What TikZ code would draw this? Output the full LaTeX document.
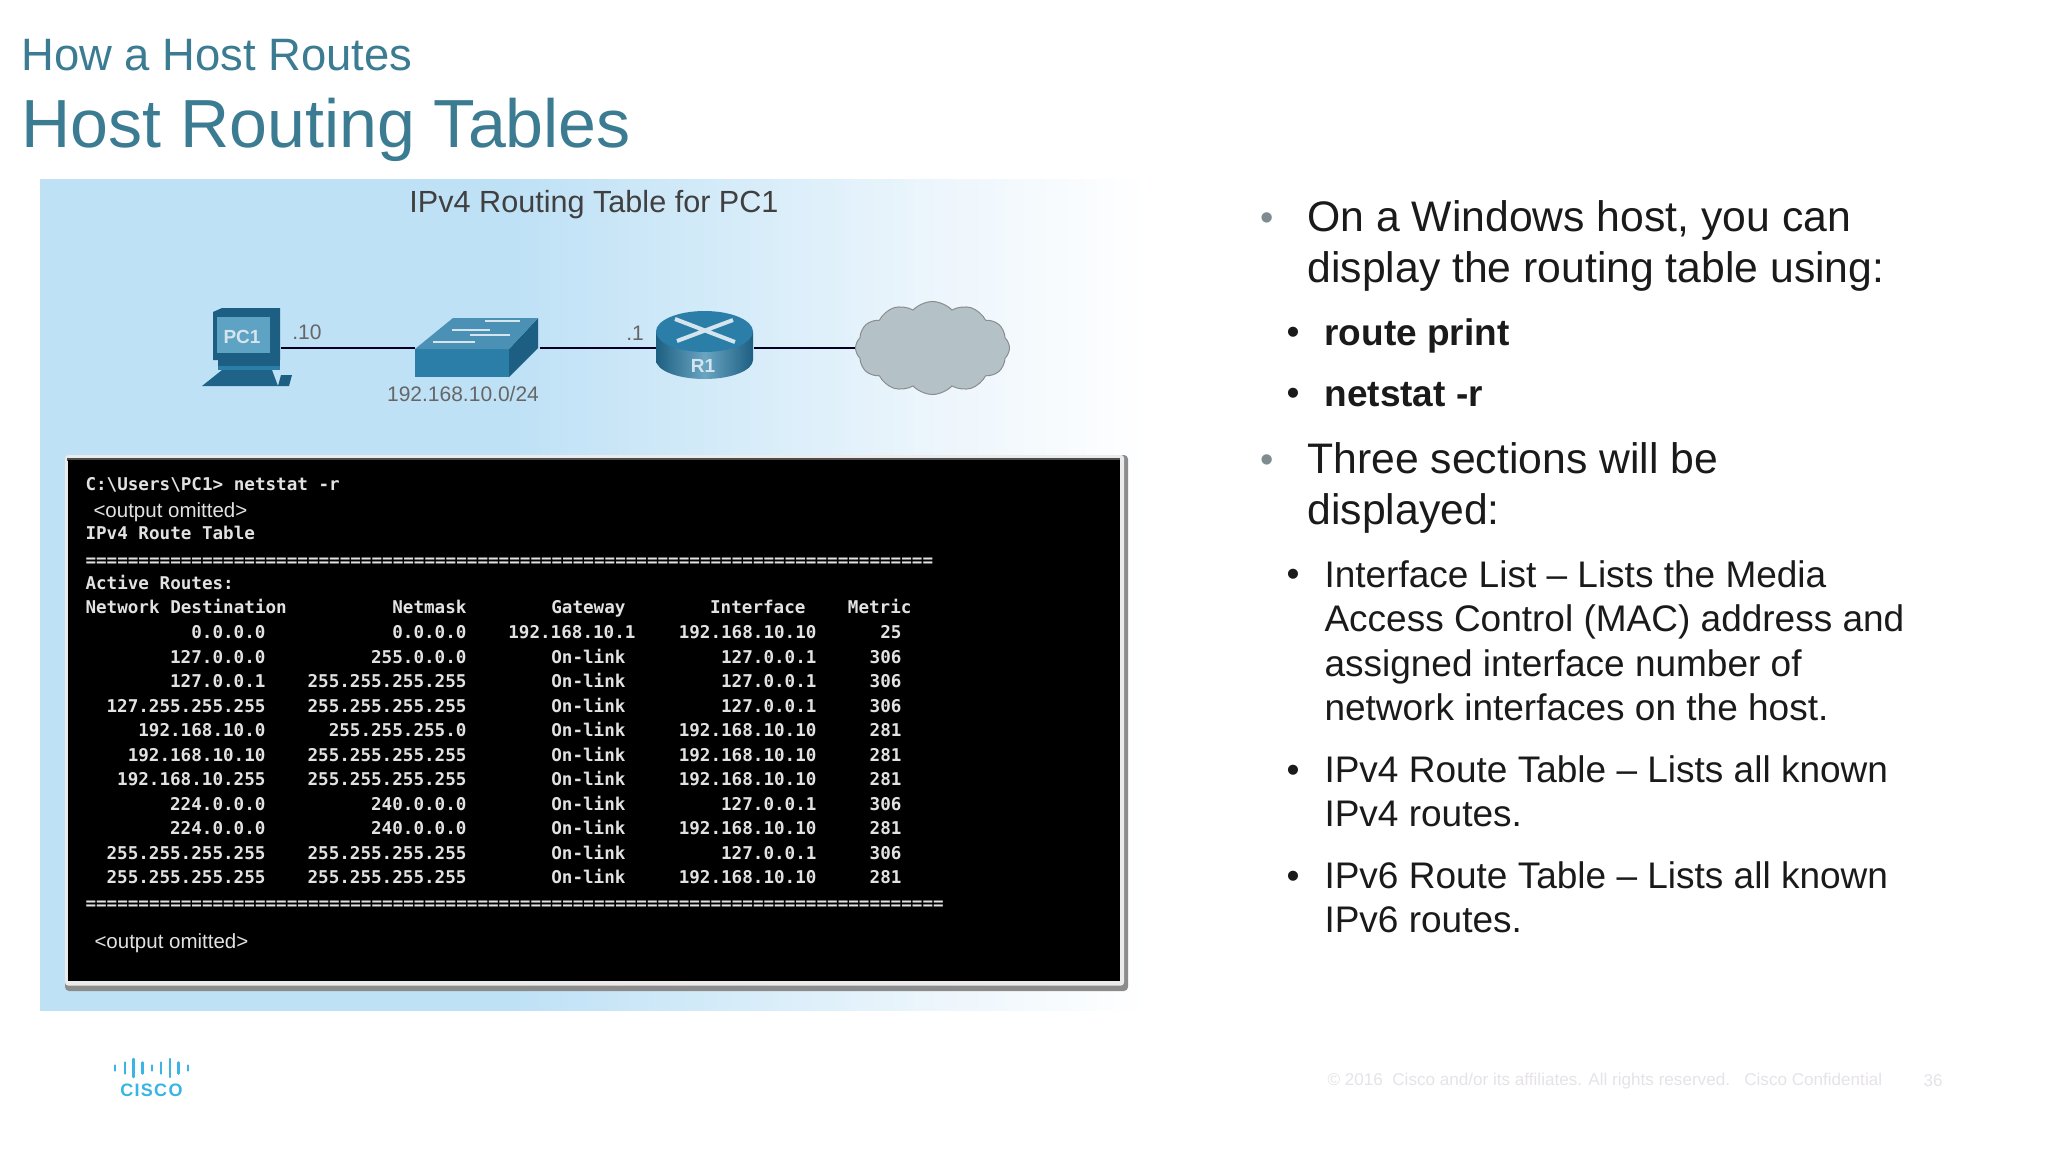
\documentclass[tikz,border=0pt]{standalone}
\usepackage{fontspec}
\setmainfont{Liberation Sans}
\setmonofont{DejaVu Sans Mono}
\usetikzlibrary{positioning,shapes.symbols}

\definecolor{titleblue}{HTML}{3B7C93}
\definecolor{bodyblack}{HTML}{1A1A1A}
\definecolor{dotgray}{HTML}{7F8C8F}
\definecolor{iconblue}{HTML}{2A7EA8}
\definecolor{icondark}{HTML}{1D5F82}
\definecolor{iconlight}{HTML}{5FA3C4}
\definecolor{cloudgray}{HTML}{B4C2C8}
\definecolor{ciscoblue}{HTML}{38B5E3}
\definecolor{footgray}{HTML}{E6E3E8}
\definecolor{termtext}{HTML}{E2E2E2}
\definecolor{panelblue}{HTML}{BFE1F6}
\definecolor{panelmid}{HTML}{D6ECF9}
\definecolor{panelpale}{HTML}{EDF6FC}
\pgfdeclarehorizontalshading{panelfade}{100bp}{
  color(0bp)=(panelblue); color(25bp)=(panelblue); color(46bp)=(panelblue); color(56bp)=(panelmid);
  color(65bp)=(panelpale); color(74bp)=(white); color(100bp)=(white)}

\begin{document}
\begin{tikzpicture}[x=1pt,y=-1pt,node distance=200pt,on grid,line width=1pt]
       \tikzstyle{headtext}=[anchor=west,text=titleblue,inner sep=0pt]
       \tikzstyle{biglist}=[anchor=base west,inner sep=0pt,font=\fontsize{42.7}{42.7}\selectfont,text=bodyblack]
       \tikzstyle{sublist}=[anchor=base west,inner sep=0pt,font=\fontsize{37}{37}\selectfont,text=bodyblack]
       \tikzstyle{netlabel}=[inner sep=0pt,text=black!60,font=\fontsize{21}{21}\selectfont]
       \tikzstyle{icon}=[inner sep=0pt,draw=none,minimum height=60pt]
       \tikzstyle{termline}=[anchor=base west,inner sep=0pt,text=termtext,font=\fontsize{17.6}{17.6}\ttfamily\bfseries\selectfont]
       \tikzstyle{termcol}=[termline,anchor=base east]
       \tikzstyle{termomit}=[anchor=base west,inner sep=0pt,text=termtext,font=\fontsize{20.5}{20.5}\selectfont]
       \tikzstyle{wire}=[line width=2.5pt,black!85!blue]
       \tikzstyle{iconlabel}=[inner sep=0pt,text=white!80!iconblue,font=\fontsize{19}{19}\bfseries\selectfont]

       \useasboundingbox (0,0) rectangle (2048,1152);
       \fill[white] (0,0) rectangle (2048,1152);

       % titles
       \node[headtext,font=\fontsize{45.4}{45.4}\selectfont] (howhost) at (21,55) {How a Host Routes};
       \node[headtext,font=\fontsize{68.1}{68.1}\selectfont] (hosttables) at (21,130) {Host Routing Tables};

       % panel
       \shade[shading=panelfade] (40,179) rectangle (1170,1010);
       \node[inner sep=0pt,text=black!75,font=\fontsize{30.6}{30.6}\selectfont] (paneltitle) at (594,205) {IPv4 Routing Table for PC1};

       % network row
       \node[icon,minimum width=67pt] (pc1) at (246.5,348) {};
       \node[icon,minimum width=124pt,right=230.5pt of pc1] (sw) {};
       \node[icon,minimum width=97pt,right=227.5pt of sw] (r1) {};
       \node[cloud,cloud puffs=12,cloud puff arc=95,aspect=1.6,draw=black!45,fill=cloudgray,
             minimum width=154pt,minimum height=93pt,inner sep=0pt,right=228pt of r1] (net) {};

       \draw[wire] (pc1.east) -- (sw.west);
       \draw[wire] (sw.east) -- (r1.west);
       \draw[wire] (r1.east) -- (net.west);

       % pc
       \fill[icondark] (213,312) -- (222,308) -- (280,308) -- (280,360) -- (213,360) -- cycle;
       \fill[iconlight] (217,317) rectangle (270,353);
       \node[iconlabel] (pc1name) at (242,337) {PC1};
       \fill[icondark] (218,360) rectangle (280,366);
       \fill[iconblue] (218,366) rectangle (280,370);
       \fill[icondark!85!iconblue] (202,386) -- (222,370) -- (272,370) -- (278,386) -- cycle;
       \fill[icondark] (281,375) -- (292,375) -- (289,386) -- (278,386) -- cycle;

       % switch
       \fill[iconblue] (415,349) rectangle (509,377);
       \fill[icondark] (509,349) -- (538,318) -- (538,348) -- (509,377) -- cycle;
       \fill[iconblue!85!white] (415,349) -- (453,318) -- (538,318) -- (509,349) -- cycle;
       \draw[white!80!iconblue,line width=2.5pt] (433,342) -- (475,342) (452,330) -- (490,330)
             (470,335) -- (510,335) (485,321) -- (520,321);

       % router
       \shade[left color=icondark,right color=icondark,middle color=iconblue!70!white]
             (656,332) -- (656,360) arc[start angle=180,end angle=360,x radius=48.5pt,y radius=19pt]
             -- (753,332) -- cycle;
       \fill[iconblue] (704.5,331.5) ellipse[x radius=48.5pt,y radius=20.5pt];
       \draw[white!80!iconblue,line width=4pt] (675,319) -- (735,342) (733,320) -- (677,341);
       \node[iconlabel] (r1name) at (703,366) {R1};

       % addresses
       \node[netlabel] (pcaddr) at (307,332) {.10};
       \node[netlabel] (swnet) at (463,394) {192.168.10.0/24};
       \node[netlabel] (raddr) at (635,333) {.1};

       % terminal
       \fill[black!45,rounded corners=4pt] (65,455) rectangle (1128,991);
       \fill[white!92!black,rounded corners=3pt] (65,455) rectangle (1124,985.5);
       \fill[black!70] (67,458) rectangle (1120,461);
       \fill[black] (68,460) rectangle (1120,981);

       \node[termline] (cmdline) at (85,490) {C:\textbackslash Users\textbackslash PC1> netstat -r};
       \node[termomit] (omit1) at (93,517) {<output omitted>};
       \node[termline] (tablename) at (85,539) {IPv4 Route Table};
       \node[termline] (rule1) at (85,566) {================================================================================};
       \node[termline] (active) at (85,589) {Active Routes:};
       \node[termline] (colnet) at (85,613) {Network Destination};
       \node[termcol] (colmask) at (467,613) {Netmask};
       \node[termcol] (colgate) at (626,613) {Gateway};
       \node[termcol] (colif) at (806,613) {Interface};
       \node[termcol] (colmet) at (912,613) {Metric};

       \foreach \n/\y/\dest/\mask/\gate/\gx/\ifc/\met in {
          a/638/0.0.0.0/0.0.0.0/192.168.10.1/636/192.168.10.10/25,
          b/663/127.0.0.0/255.0.0.0/On-link/626/127.0.0.1/306,
          c/687/127.0.0.1/255.255.255.255/On-link/626/127.0.0.1/306,
          d/712/127.255.255.255/255.255.255.255/On-link/626/127.0.0.1/306,
          e/736/192.168.10.0/255.255.255.0/On-link/626/192.168.10.10/281,
          f/761/192.168.10.10/255.255.255.255/On-link/626/192.168.10.10/281,
          g/785/192.168.10.255/255.255.255.255/On-link/626/192.168.10.10/281,
          h/810/224.0.0.0/240.0.0.0/On-link/626/127.0.0.1/306,
          i/834/224.0.0.0/240.0.0.0/On-link/626/192.168.10.10/281,
          j/859/255.255.255.255/255.255.255.255/On-link/626/127.0.0.1/306,
          k/883/255.255.255.255/255.255.255.255/On-link/626/192.168.10.10/281}{
         \node[termcol] (dest\n) at (266,\y) {\dest};
         \node[termcol] (mask\n) at (467,\y) {\mask};
         \node[termcol] (gate\n) at (\gx,\y) {\gate};
         \node[termcol] (ifc\n) at (817,\y) {\ifc};
         \node[termcol] (met\n) at (902,\y) {\met};
       }
       \node[termline] (rule2) at (85,909) {=================================================================================};
       \node[termomit] (omit2) at (94,948) {<output omitted>};

       % bullets
       \foreach \n/\y in {a/230,b/472}
         \node[biglist,text=dotgray,font=\fontsize{38}{38}\selectfont] (bigdot\n) at (1260,\y) {•};
       \node[biglist] (winline) at (1307,231) {On a Windows host, you can};
       \node[biglist] (winline2) at (1307,282) {display the routing table using:};
       \node[biglist] (threeline) at (1307,473) {Three sections will be};
       \node[biglist] (threeline2) at (1307,524) {displayed:};

       \foreach \n/\y in {a/344,b/405,c/586,d/782,e/888}
         \node[sublist] (subdot\n) at (1286,\y) {•};
       \node[sublist,font=\fontsize{37}{37}\bfseries\selectfont] (routecmd) at (1324,345) {route print};
       \node[sublist,font=\fontsize{37}{37}\bfseries\selectfont] (netcmd) at (1324,406) {netstat -r};
       \node[sublist] (ifa) at (1324,587) {Interface List – Lists the Media};
       \node[sublist] (ifb) at (1324,631) {Access Control (MAC) address and};
       \node[sublist] (ifc) at (1324,676) {assigned interface number of};
       \node[sublist] (ifd) at (1324,720) {network interfaces on the host.};
       \node[sublist] (vfa) at (1324,782) {IPv4 Route Table – Lists all known};
       \node[sublist] (vfb) at (1324,826) {IPv4 routes.};
       \node[sublist] (sxa) at (1324,888) {IPv6 Route Table – Lists all known};
       \node[sublist] (sxb) at (1324,932) {IPv6 routes.};

       % logo
       \foreach \x/\h in {115/2.5,125/5.5,133.5/9,142.5/5.5,152/2.5,161/5.5,170/9,178.5/5.5,188/2.5}
         \draw[ciscoblue,line width=2.5pt,line cap=round] (\x,1068-\h) -- (\x,1068+\h);
       \node[inner sep=0pt,text=ciscoblue,font=\fontsize{18}{18}\bfseries\selectfont\addfontfeature{LetterSpace=7}] (ciscoword) at (151.5,1090) {CISCO};

       % footer
       \node[anchor=west,inner sep=0pt,text=footgray,font=\fontsize{17.1}{17.1}\selectfont] (copyline) at (1327,1081) {© 2016\ \ Cisco and/or its affiliates. All rights reserved.\ \ \ Cisco Confidential};
       \node[anchor=west,inner sep=0pt,text=footgray,font=\fontsize{17.1}{17.1}\selectfont] (pagenum) at (1923,1081) {36};
     \end{tikzpicture}
\end{document}
